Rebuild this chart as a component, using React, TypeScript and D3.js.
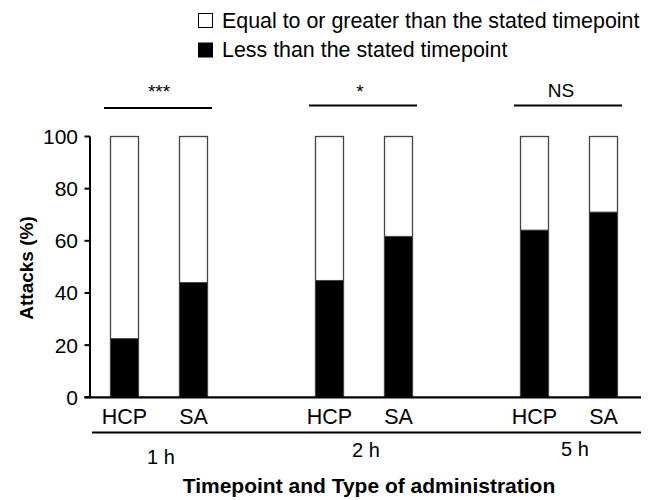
import React from "react";
import * as d3 from "d3";

const timepoints = ["1 h", "2 h", "5 h"];
const types = ["HCP", "SA"];
const lessThan = [
  [22.5, 44.0],
  [44.8, 61.7],
  [64.1, 71.0],
];
const significance = ["***", "*", "NS"];
const yTicks = [0, 20, 40, 60, 80, 100];
const legendLabels = [
  "Equal to or greater than the stated timepoint",
  "Less than the stated timepoint",
];
const yTitle = "Attacks (%)";
const xTitle = "Timepoint and Type of administration";

const W = 653;
const H = 500;
const FONT = "'Liberation Sans', Arial, sans-serif";

export default function App() {
  const y = d3.scaleLinear().domain([0, 100]).range([397.3, 136.5]);
  const xGroup = d3.scaleBand<string>().domain(timepoints).range([56.5, 671.5]).padding(0);
  const xInner = d3.scalePoint<string>().domain(types).range([33.5, 171.5]).padding(0.5);
  const barW = 28;
  const axisX = 90;
  const groupLabelY = [464, 457, 456];

  return (
    <svg width={W} height={H} style={{ position: "absolute", left: 0, top: 0 }} fontFamily={FONT}>
      <rect width={W} height={H} fill="#fff" />
      {/* legend */}
      {legendLabels.map((l, i) => (
        <g key={l}>
          <rect
            x={198.5}
            y={13.5 + i * 29.5}
            width={14}
            height={14}
            fill={i === 0 ? "#fff" : "#000"}
            stroke="#000"
            strokeWidth={1}
          />
          <text x={222} y={27.5 + i * 29.5} fontSize={21.4} fill="#000">
            {l}
          </text>
        </g>
      ))}
      {/* significance */}
      {timepoints.map((t, i) => {
        const cx = xGroup(t)! + xGroup.bandwidth() / 2;
        const ly = i === 0 ? 108 : 105.5;
        return (
          <g key={"sig" + t}>
            <line x1={cx - 55} x2={cx + 53} y1={ly} y2={ly} stroke="#000" strokeWidth={2.2} />
            <text
              x={cx + [0, -4, -8][i]}
              y={significance[i] === "NS" ? 97 : 98}
              textAnchor="middle"
              fontSize={19}
              fill="#000"
            >
              {significance[i]}
            </text>
          </g>
        );
      })}
      {/* bars */}
      {timepoints.map((t, gi) =>
        types.map((ty, ti) => {
          const cx = xGroup(t)! + xInner(ty)!;
          const v = lessThan[gi][ti];
          return (
            <g key={t + ty}>
              <rect
                x={cx - barW / 2}
                y={y(100)}
                width={barW}
                height={y(0) - y(100)}
                fill="#fff"
                stroke="#444"
                strokeWidth={1.3}
              />
              <rect x={cx - barW / 2} y={y(v)} width={barW} height={y(0) - y(v)} fill="#000" stroke="#444" strokeWidth={1} />
              <text x={cx} y={423.5} textAnchor="middle" fontSize={21.5} fill="#000">
                {ty}
              </text>
            </g>
          );
        })
      )}
      {/* y axis */}
      <line x1={axisX} x2={axisX} y1={y(100)} y2={y(0)} stroke="#000" strokeWidth={2} />
      {yTicks.map((tk) => (
        <g key={tk}>
          <line x1={84.5} x2={axisX} y1={y(tk)} y2={y(tk)} stroke="#000" strokeWidth={2} />
          <text x={78} y={y(tk) + 7.5} textAnchor="end" fontSize={21} fill="#000">
            {tk}
          </text>
        </g>
      ))}
      {/* x axis */}
      <line x1={84.5} x2={641} y1={y(0)} y2={y(0)} stroke="#000" strokeWidth={2.2} />
      <line x1={92} x2={641} y1={432.5} y2={432.5} stroke="#000" strokeWidth={2.2} />
      {timepoints.map((t, i) => (
        <text
          key={"gl" + t}
          x={xGroup(t)! + xGroup.bandwidth() / 2 + [2, 2, 6][i]}
          y={groupLabelY[i]}
          textAnchor="middle"
          fontSize={20}
          fill="#000"
        >
          {t}
        </text>
      ))}
      <text x={369} y={493} textAnchor="middle" fontSize={21} fontWeight="bold" fill="#000">
        {xTitle}
      </text>
      <text
        transform={`translate(33,${268}) rotate(-90)`}
        textAnchor="middle"
        fontSize={19}
        fontWeight="bold"
        fill="#000"
      >
        {yTitle}
      </text>
    </svg>
  );
}
